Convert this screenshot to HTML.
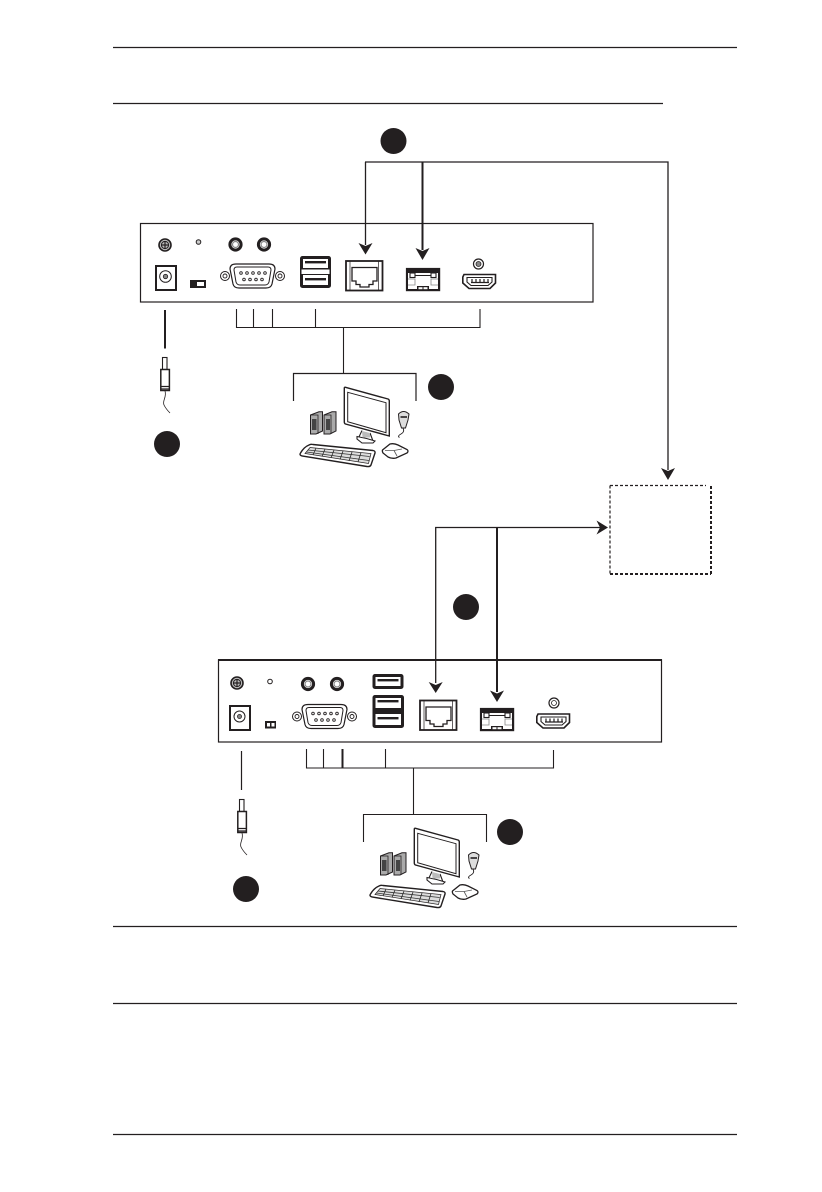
<!DOCTYPE html>
<html>
<head>
<meta charset="utf-8">
<style>
html,body{margin:0;padding:0;background:#fff;width:822px;height:1192px;overflow:hidden}
svg{display:block}
</style>
</head>
<body>
<svg width="822" height="1192" viewBox="0 0 822 1192" xmlns="http://www.w3.org/2000/svg" fill="none" stroke="#231f20">
<defs>
<g id="screw" stroke-width="1.2">
  <circle r="6" fill="#bbb" stroke-width="1.6"/>
  <circle r="3.6" fill="none" stroke-width="1"/>
  <path d="M-4 0H4M0-4V4" stroke-width="1.2"/>
</g>
<g id="audio">
  <circle r="5.6" fill="#fff" stroke-width="3"/>
  <circle r="3" fill="#fff" stroke="#888" stroke-width="1.2"/>
</g>
<g id="db9">
  <path d="M16 0H49Q55 0 55 5L52 20Q51 24 46 24H19Q14 24 13 20L10 5Q10 0 16 0Z" fill="#fff" stroke-width="1.2"/>
  <path d="M17 3H48Q51 3 51 6L49 18Q48 21 45 21H20Q17 21 16 18L14 6Q14 3 17 3Z" fill="#fff" stroke-width="1"/>
  <g fill="#fff" stroke-width=".9">
    <circle cx="21" cy="9" r="1.3"/><circle cx="27" cy="9" r="1.3"/><circle cx="33" cy="9" r="1.3"/><circle cx="39" cy="9" r="1.3"/><circle cx="45" cy="9" r="1.3"/>
    <circle cx="24" cy="15.500" r="1.3"/><circle cx="30" cy="15.500" r="1.3"/><circle cx="36" cy="15.500" r="1.3"/><circle cx="42" cy="15.500" r="1.300"/>
  </g>
  <circle cx="5" cy="12" r="4.500" stroke-width="1"/><circle cx="5" cy="12" r="2" stroke-width=".9"/>
  <circle cx="60" cy="12" r="4.500" stroke-width="1"/><circle cx="60" cy="12" r="2" stroke-width=".9"/>
</g>
<g id="usbslot">
  <rect x="0" y="0" width="31" height="15" rx="2.500" fill="#231f20" stroke="none"/>
  <rect x="3" y="3" width="25" height="9" fill="#fff" stroke="none"/>
  <rect x="5" y="5" width="21" height="2.400" fill="#231f20" stroke="none"/>
</g>
<g id="rj45">
  <rect x="1" y="1" width="36.500" height="29.500" fill="#fff" stroke-width="1.800"/>
  <path d="M5 1.500V30M33.500 1.500V30" stroke-width=".7"/>
  <path d="M7 7.500H32V21H28V24.500H24V27H15V24.500H11V21H7Z" stroke-width="1.300" fill="#fff"/>
</g>
<g id="sfp">
  <rect x="0.800" y="0.800" width="32.500" height="21.500" fill="#231f20" stroke-width="1.800"/>
  <rect x="2" y="2" width="30" height="19" fill="#fff" stroke="none"/>
  <path d="M2 2H32V5H2Z" fill="#231f20" stroke="none"/>
  <rect x="4" y="5" width="5" height="4.500" fill="#fff" stroke-width="1.100"/>
  <rect x="25" y="5" width="5" height="4.500" fill="#fff" stroke-width="1.100"/>
  <path d="M9 7.500H25" stroke-width="1"/>
  <path d="M2 11H9V17H2M32 11H25V17H32" stroke="#888" stroke-width=".8"/>
  <path d="M11 18H23V22H11Z" fill="#231f20" stroke="none"/>
  <rect x="12.500" y="19.200" width="4" height="2" fill="#fff" stroke="none"/>
  <rect x="17.500" y="19.200" width="4" height="2" fill="#fff" stroke="none"/>
</g>
<g id="hdmi">
  <path d="M2 1.500H33.500V10L28 15.500H7L0.800 10V4Z" fill="#fff" stroke-width="1.600"/>
  <path d="M5 4.500H30V9L26 12.500H9L5 9Z" fill="#fff" stroke-width="1.100"/>
  <path d="M10 6V9M14 6V9M18 6V9M22 6V9M26 6V9M9 9.500H27" stroke-width="1.200"/>
</g>
<g id="station">
  <path d="M345.500 387.300L388 399Q389.300 399.500 389.300 401V436L345.500 424Q344.300 423.500 344.300 422V388Q344.300 387 345.500 387.300Z" fill="#fff" stroke-width="1.400"/>
  <path d="M347.700 392.300L386 402.700V432.700L347.700 421.700Z" fill="#fff" stroke-width="1"/>
  <path d="M362 430.500L358 439M370 433L373 441" fill="#fff" stroke-width="1.100"/>
  <path d="M357 436.500Q366 438 375 441L373 443H362L357 439Z" fill="#fff" stroke-width="1.100"/>
  <path d="M362 431L362.500 437.500H370V433" fill="#bbb" stroke="none"/>
  <path d="M310.500 415L319 411.800H322.500V431L316 434H310.500Z" fill="#aaa" stroke-width="1"/>
  <path d="M310.500 415H318V434" stroke-width=".8"/>
  <rect x="312" y="419" width="4.500" height="11" fill="#444" stroke="none"/>
  <path d="M324 415L332 411.800H336V431L330 434H324Z" fill="#aaa" stroke-width="1"/>
  <path d="M324 415H331V434" stroke-width=".8"/>
  <rect x="326" y="419" width="4" height="11" fill="#444" stroke="none"/>
  <path d="M398.500 414Q403.500 409 409 414L408 420L405.500 428H401.500L399 420Z" fill="#ddd" stroke-width="1"/>
  <path d="M400.500 417H407" stroke-width="1.600"/>
  <path d="M403 428Q405 432 401 434T399.500 437.500" stroke-width=".9"/>
  <path d="M309 445Q311 444 313 444.500L373 450.500Q375.500 451 375 453L371 465Q370 467 367 466.500L302 456Q299 455 300.500 453Q304 447 309 445Z" fill="#fff" stroke-width="1.400"/>
  <path d="M310 447.500L371 453.500L368.500 463.500L305 453.500Z" fill="#ddd" stroke-width=".7"/>
  <path d="M308 450L369.700 456.500M306.500 452L369 460.500" stroke="#333" stroke-width=".8"/>
  <path d="M316 448L313 455M325 449L322 456.500M334 450L331 458M343 451L340 459.500M352 452L349 461M361 452.500L358 462" stroke="#333" stroke-width=".9"/>
  <path d="M382.500 450L390 444Q394 443 398 445L407 449.500Q409 451 407 453L396 458Q392 459 388 457L383 453Q382 451 382.500 450Z" fill="#fff" stroke-width="1.300"/>
  <path d="M385 450.500H394L402 449" stroke="#555" stroke-width=".8"/>
  <path d="M394 450.500L397 456" stroke="#555" stroke-width=".8"/>
</g>
<g id="plug">
  <rect x="162.500" y="357.500" width="4.500" height="12" fill="#fff" stroke-width="1.100"/>
  <rect x="160.800" y="369.500" width="8.600" height="21" fill="#fff" stroke-width="1.500"/>
  <path d="M160.800 386.500H169.400M160.800 389H169.400" stroke-width="1.300"/>
  <path d="M165 391C167 397 162 401 164 405S168 411 170 413" stroke-width=".8"/>
</g>
</defs>

<rect x="0" y="0" width="822" height="1192" fill="#fff" stroke="none"/>

<g stroke-width="1.200">
  <path d="M113 47.500H737"/>
  <path d="M113 103.500H663"/>
  <path d="M113 926.500H737"/>
  <path d="M113 1003.500H737"/>
  <path d="M113 1134.500H737"/>
</g>

<!-- top device -->
<rect x="140.500" y="223.500" width="452.500" height="78.500" stroke-width="1.200"/>
<use href="#screw" x="165" y="245"/>
<circle cx="198.500" cy="242" r="2.300" fill="#ccc" stroke-width="1"/>
<use href="#audio" x="235.500" y="244.500"/>
<use href="#audio" x="264" y="244.500"/>
<rect x="156" y="266" width="20" height="24" stroke-width="2"/>
<circle cx="165.500" cy="276.500" r="5.800" stroke-width="1"/>
<circle cx="165.500" cy="276.500" r="2.200" fill="#888" stroke-width=".8"/>
<rect x="190" y="280" width="16" height="8" fill="#231f20" stroke="none"/>
<rect x="197" y="282" width="7" height="4" fill="#fff" stroke="none"/>
<use href="#db9" x="220" y="264"/>
<g>
  <rect x="300" y="256" width="31" height="32" rx="2.500" fill="#231f20" stroke="none"/>
  <rect x="303" y="259" width="25" height="9" fill="#fff" stroke="none"/>
  <rect x="305" y="261" width="21" height="2.400" fill="#231f20" stroke="none"/>
  <rect x="301.500" y="269.500" width="28" height="4.500" fill="#fff" stroke="none"/>
  <rect x="303" y="275" width="25" height="10" fill="#fff" stroke="none"/>
  <rect x="305" y="278" width="21" height="2.400" fill="#231f20" stroke="none"/>
</g>
<use href="#rj45" x="345" y="260"/>
<use href="#sfp" x="406" y="268"/>
<use href="#hdmi" x="462" y="273"/>
<circle cx="478.500" cy="264" r="5" stroke-width="1.200"/>
<circle cx="478.500" cy="264" r="2.500" fill="#888" stroke-width=".8"/>

<!-- top connectors -->
<path d="M365 162H668V470" stroke-width="1.300"/>
<path d="M365.500 162V245" stroke-width="1.300"/>
<path d="M422.500 162V250" stroke-width="2"/>
<path d="M358.500 243L365.500 246L372.500 243L365.500 254.500Z" fill="#231f20" stroke="none"/>
<path d="M415.500 248L422.500 251L429.500 248L422.500 260Z" fill="#231f20" stroke="none"/>
<path d="M661 468L668 471L675 468L668 480Z" fill="#231f20" stroke="none"/>
<path d="M236.500 309V327.500H480V309M253.500 309V327.500M272.500 309V327.500M315.500 309V327.500" stroke-width="1.100"/>
<path d="M343.500 327.500V373.500" stroke-width="1.100"/>
<path d="M293.500 401V373.500H416V401" stroke-width="1.200"/>
<path d="M165 310V348.500" stroke-width="2"/>
<use href="#plug"/>
<use href="#station"/>

<circle cx="393.500" cy="141" r="13" fill="#231f20" stroke="none"/>
<circle cx="441" cy="387" r="13" fill="#231f20" stroke="none"/>
<circle cx="167" cy="444" r="13" fill="#231f20" stroke="none"/>

<!-- dashed box -->
<path d="M610 485.500H706" stroke-width="1.200" stroke-dasharray="3 2"/>
<path d="M610 485.500V574" stroke-width="1.200" stroke-dasharray="3 2"/>
<path d="M711 486V574M610 574H711" stroke-width="2" stroke-dasharray="3 2"/>

<!-- mid connectors -->
<path d="M600 527.500H435.700V683" stroke-width="1.300"/>
<path d="M497 527.500V692" stroke-width="2"/>
<path d="M596.500 520.500L600 527.500L596.500 534.500L608 527.500Z" fill="#231f20" stroke="none"/>
<path d="M428.700 682L435.700 685L442.700 682L435.700 693Z" fill="#231f20" stroke="none"/>
<path d="M490 690.500L497 693.500L504 690.500L497 702Z" fill="#231f20" stroke="none"/>
<circle cx="466" cy="607" r="13" fill="#231f20" stroke="none"/>

<!-- bottom device -->
<rect x="218.500" y="660" width="443" height="82" stroke-width="1.200"/>
<path d="M218 660H662" stroke-width="2"/>
<use href="#screw" x="237" y="683"/>
<circle cx="270" cy="681.500" r="2.300" fill="#fff" stroke-width="1"/>
<use href="#audio" x="308" y="684"/>
<use href="#audio" x="337" y="684"/>
<rect x="230" y="706" width="20" height="24" stroke-width="2"/>
<circle cx="239.500" cy="716.500" r="5.500" stroke-width="1"/>
<circle cx="239.500" cy="716.500" r="2" fill="#888" stroke-width=".8"/>
<rect x="265" y="721" width="11" height="7.500" fill="#231f20" stroke="none"/>
<rect x="267" y="723" width="3" height="3.500" fill="#fff" stroke="none"/>
<rect x="271.500" y="723" width="3" height="3.500" fill="#fff" stroke="none"/>
<use href="#db9" x="292" y="704.500"/>
<use href="#usbslot" x="372.500" y="674"/>
<g>
  <rect x="372.500" y="695" width="31.500" height="33" rx="2.500" fill="#231f20" stroke="none"/>
  <rect x="375.500" y="698" width="25.500" height="10" fill="#fff" stroke="none"/>
  <rect x="377.500" y="700" width="21" height="2.400" fill="#231f20" stroke="none"/>
  <rect x="375.500" y="714" width="25.500" height="11" fill="#fff" stroke="none"/>
  <rect x="377.500" y="717" width="21" height="2.400" fill="#231f20" stroke="none"/>
</g>
<use href="#rj45" x="419" y="699.500"/>
<use href="#sfp" x="480" y="708"/>
<use href="#hdmi" x="536" y="712.500"/>
<circle cx="554" cy="703" r="5" stroke-width="1.200"/>
<circle cx="554" cy="703" r="2.500" stroke-width=".8"/>

<!-- bottom lower connectors -->
<path d="M306.500 749V768H553.500V750M323.500 749V768M385.500 749V768" stroke-width="1.100"/>
<path d="M342.500 749V768" stroke-width="2"/>
<path d="M413.500 768V814" stroke-width="1.100"/>
<path d="M363.500 842V814.500H486.500V842" stroke-width="1.100"/>
<path d="M241.500 751V790" stroke-width="1.200"/>
<use href="#plug" x="77" y="442"/>
<use href="#station" x="70" y="441"/>
<circle cx="510" cy="832" r="13" fill="#231f20" stroke="none"/>
<circle cx="246" cy="889" r="13" fill="#231f20" stroke="none"/>
</svg>
</body>
</html>
